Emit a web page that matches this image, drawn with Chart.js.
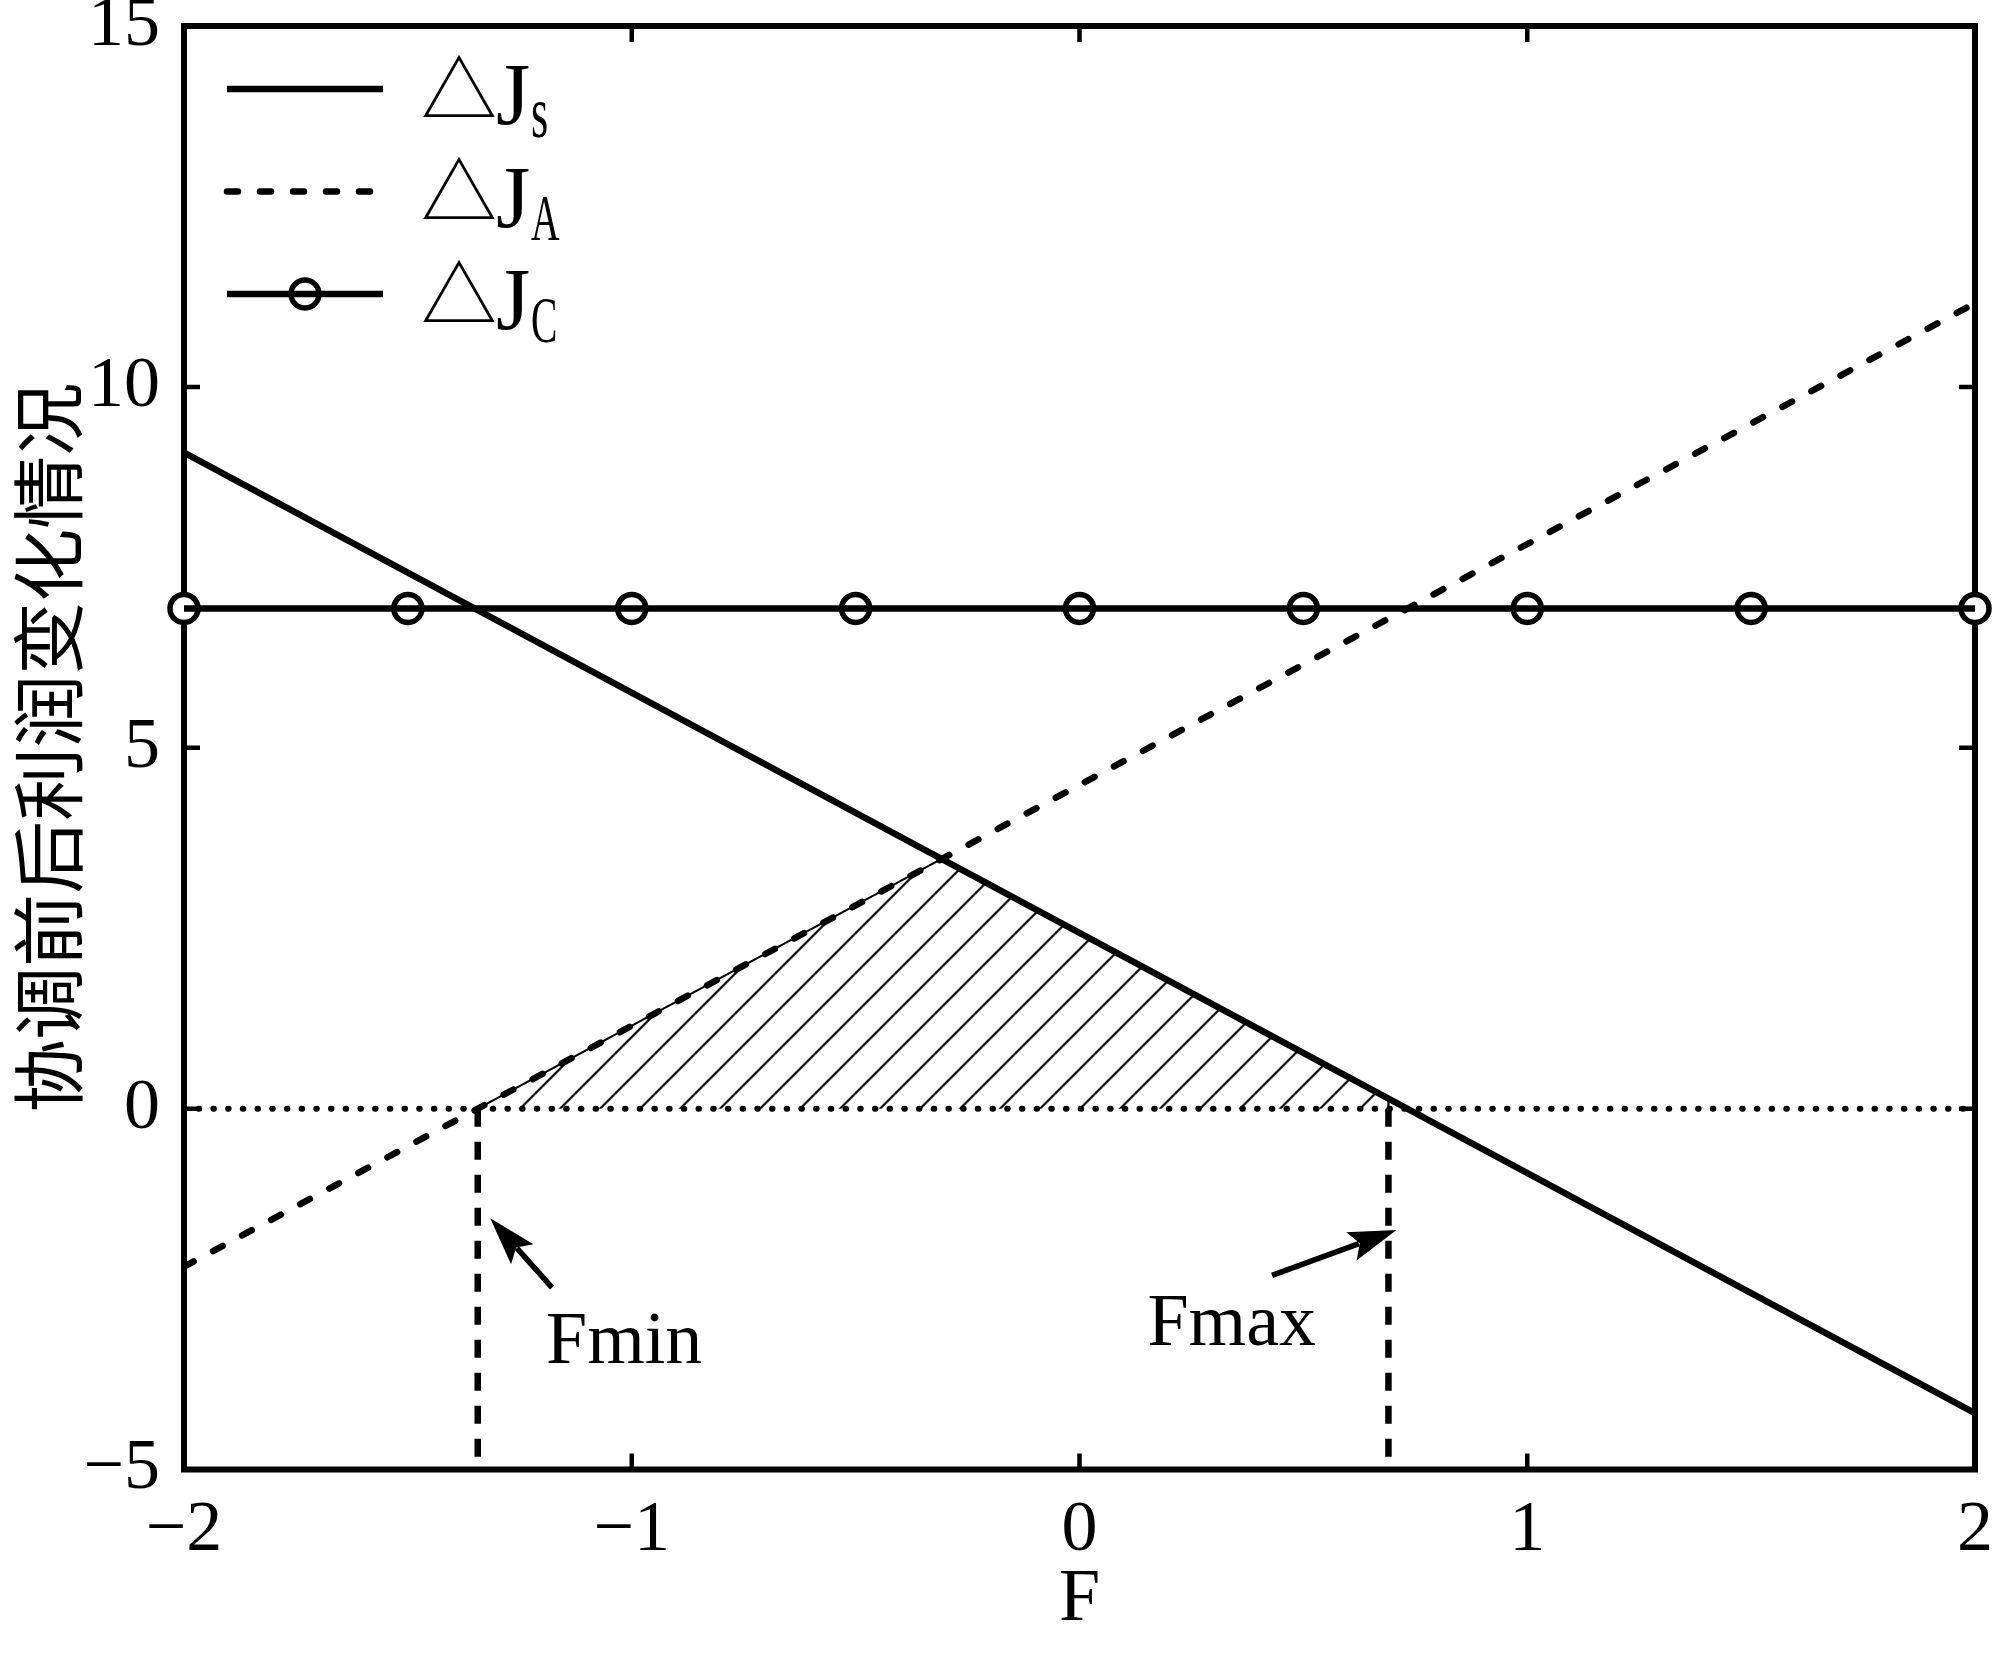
<!DOCTYPE html>
<html>
<head>
<meta charset="utf-8">
<script src="https://cdn.jsdelivr.net/npm/chart.js@4.4.1/dist/chart.umd.min.js"></script>
<style>
  html, body { margin: 0; padding: 0; background: #fff; }
  canvas { display: block; }
</style>
</head>
<body>
<canvas id="chart" width="2000" height="1659"></canvas>
<script>
// values
const fTicks = [-2, -1, 0, 1, 2];
const jTicks = [-5, 0, 5, 10, 15];

const jsF = [-2, 2];
const jsVals = [9.09, -4.22];

const jaF = [-2, 2];
const jaVals = [-2.19, 11.16];

const jcF = [-2, -1.5, -1, -0.5, 0, 0.5, 1, 1.5, 2];
const jcVals = [6.93, 6.93, 6.93, 6.93, 6.93, 6.93, 6.93, 6.93, 6.93];

const zeroF = [-2, 2];
const zeroVals = [0, 0];

const F_MIN = -1.344;
const F_MAX = 0.69;
const boundVals = [0, -5];

// shaded region: Fmin -> crossing of the two lines -> Fmax
const hatchF = [F_MIN, -0.308, F_MAX, F_MAX];
const hatchVals = [0, 3.46, 0.15, 0];

const legendSubs = ["s", "A", "C"];
const yTitle = "协调前后利润变化情况";
const xTitle = "F";

// arrow notes (data units)
const noteText = ["Fmin", "Fmax"];
const noteTextAt = [[-1.017, -3.525], [0.340, -3.275]];
const noteTail = [[-1.178, -2.48], [0.430, -2.31]];
const noteTip = [[-1.316, -1.52], [0.708, -1.68]];

const pts = (xs, ys) => xs.map((v, i) => ({ x: v, y: ys[i] }));
const minus = (v) => (v < 0 ? "\u2212" + Math.abs(v) : String(v));

Chart.defaults.color = "#000";
Chart.defaults.font.family = "'Liberation Serif', serif";

const canvas = document.getElementById("chart");
const ctx = canvas.getContext("2d");

// 45 degree hatch
const tile = document.createElement("canvas");
tile.width = 40;
tile.height = 40;
const tg = tile.getContext("2d");
tg.strokeStyle = "#000";
tg.lineWidth = 2.2;
tg.beginPath();
tg.moveTo(-40, 40); tg.lineTo(40, -40);
tg.moveTo(-40, 80); tg.lineTo(80, -40);
tg.moveTo(0, 80); tg.lineTo(80, 0);
tg.stroke();
const hatch = ctx.createPattern(tile, "repeat");
hatch.setTransform(new DOMMatrix().translate(28.7, 0));

const framePlugin = {
  id: "frame",
  beforeDatasetsDraw(chart) {
    const { ctx, chartArea: a, scales: { x, y } } = chart;
    ctx.save();
    ctx.strokeStyle = "#000";
    ctx.lineWidth = 6;
    ctx.strokeRect(a.left, a.top, a.right - a.left, a.bottom - a.top);
    ctx.lineWidth = 4.5;
    ctx.beginPath();
    x.ticks.forEach((t) => {
      const p = x.getPixelForValue(t.value);
      ctx.moveTo(p, a.bottom); ctx.lineTo(p, a.bottom - 16);
      ctx.moveTo(p, a.top); ctx.lineTo(p, a.top + 16);
    });
    y.ticks.forEach((t) => {
      const p = y.getPixelForValue(t.value);
      ctx.moveTo(a.left, p); ctx.lineTo(a.left + 16, p);
      ctx.moveTo(a.right, p); ctx.lineTo(a.right - 16, p);
    });
    ctx.stroke();
    ctx.restore();
  }
};

function arrow(ctx, x0, y0, x1, y1) {
  const ang = Math.atan2(y1 - y0, x1 - x0);
  const len = 48, half = 15;
  const bx = x1 - len * Math.cos(ang), by = y1 - len * Math.sin(ang);
  ctx.lineWidth = 5.5;
  ctx.beginPath();
  ctx.moveTo(x0, y0);
  ctx.lineTo(bx + 8 * Math.cos(ang), by + 8 * Math.sin(ang));
  ctx.stroke();
  ctx.beginPath();
  ctx.moveTo(x1, y1);
  ctx.lineTo(bx + half * Math.sin(ang), by - half * Math.cos(ang));
  ctx.lineTo(bx + 9 * Math.cos(ang), by + 9 * Math.sin(ang));
  ctx.lineTo(bx - half * Math.sin(ang), by + half * Math.cos(ang));
  ctx.closePath();
  ctx.fill();
}

const notesPlugin = {
  id: "notes",
  afterDatasetsDraw(chart) {
    const { ctx, chartArea: a, scales: { x, y } } = chart;
    ctx.save();
    ctx.fillStyle = "#000";
    ctx.strokeStyle = "#000";

    noteText.forEach((txt, i) => {
      arrow(ctx,
        x.getPixelForValue(noteTail[i][0]), y.getPixelForValue(noteTail[i][1]),
        x.getPixelForValue(noteTip[i][0]), y.getPixelForValue(noteTip[i][1]));
      ctx.font = "74px 'Liberation Serif'";
      ctx.textAlign = "center";
      ctx.textBaseline = "alphabetic";
      ctx.fillText(txt, x.getPixelForValue(noteTextAt[i][0]), y.getPixelForValue(noteTextAt[i][1]));
    });

    // legend, styles taken from the datasets
    const entries = [0, 1, 3];
    entries.forEach((dsIndex, row) => {
      const ds = chart.data.datasets[dsIndex];
      const ly = a.top + 63 + row * 102.5;
      const x0 = a.left + 43, x1 = a.left + 199;
      ctx.save();
      ctx.lineWidth = ds.borderWidth;
      ctx.lineCap = ds.borderCapStyle || "butt";
      ctx.setLineDash(ds.borderDash || []);
      ctx.beginPath();
      ctx.moveTo(x0, ly);
      ctx.lineTo(x1, ly);
      ctx.stroke();
      ctx.restore();
      if (row === 2) {
        const m = chart.data.datasets[2];
        ctx.lineWidth = m.pointBorderWidth;
        ctx.beginPath();
        ctx.arc((x0 + x1) / 2, ly, m.pointRadius, 0, Math.PI * 2);
        ctx.stroke();
      }
      ctx.textAlign = "left";
      ctx.font = "76px 'Noto Sans CJK SC'";
      ctx.textBaseline = "middle";
      ctx.fillText("\u25B3", a.left + 237, ly);
      ctx.textBaseline = "alphabetic";
      ctx.font = "88px 'Liberation Serif'";
      ctx.fillText("J", a.left + 312, ly + 35);
      ctx.save();
      ctx.translate(a.left + 347, ly + 48);
      ctx.scale(0.6, 1);
      ctx.font = (row === 0 ? "74px" : "66px") + " 'Liberation Serif'";
      ctx.fillText(legendSubs[row], 0, 0);
      ctx.restore();
    });
    ctx.restore();
  }
};

new Chart(ctx, {
  type: "line",
  data: {
    datasets: [
      {
        label: "\u25B3J" + legendSubs[0],
        data: pts(jsF, jsVals),
        borderColor: "#000", borderWidth: 6.5, pointRadius: 0, order: 3
      },
      {
        label: "\u25B3J" + legendSubs[1],
        data: pts(jaF, jaVals),
        borderColor: "#000", borderWidth: 6.5, borderDash: [11, 22], borderCapStyle: "round",
        pointRadius: 0, order: 4
      },
      {
        label: "markers",
        data: pts(jcF, jcVals),
        showLine: false, pointRadius: 14, pointBorderWidth: 5.5,
        pointBorderColor: "#000", pointBackgroundColor: "#fff",
        clip: false, order: 9
      },
      {
        label: "\u25B3J" + legendSubs[2],
        data: pts(jcF, jcVals),
        borderColor: "#000", borderWidth: 6.5, pointRadius: 0, clip: false, order: 2
      },
      {
        label: "zero",
        data: pts(zeroF, zeroVals),
        borderColor: "#000", borderWidth: 6, borderDash: [0.5, 14.2], borderCapStyle: "round",
        pointRadius: 0, order: 6
      },
      {
        label: "Fmin",
        data: pts([F_MIN, F_MIN], boundVals),
        borderColor: "#000", borderWidth: 6.5, borderDash: [18, 15], pointRadius: 0, order: 7
      },
      {
        label: "Fmax",
        data: pts([F_MAX, F_MAX], boundVals),
        borderColor: "#000", borderWidth: 6.5, borderDash: [18, 15], pointRadius: 0, order: 7
      },
      {
        label: "region",
        data: pts(hatchF, hatchVals),
        borderColor: "#000", borderWidth: 2.2, backgroundColor: hatch,
        fill: "origin", pointRadius: 0, order: 10
      }
    ]
  },
  options: {
    responsive: false,
    animation: false,
    events: [],
    layout: { padding: { top: 26, right: 25, bottom: 0, left: 0 } },
    plugins: { legend: { display: false }, tooltip: { enabled: false } },
    scales: {
      x: {
        type: "linear",
        min: fTicks[0],
        max: fTicks[fTicks.length - 1],
        afterBuildTicks: (s) => { s.ticks = fTicks.map((v) => ({ value: v })); },
        ticks: { callback: minus, font: { size: 72 }, padding: 18, maxRotation: 0, autoSkip: false },
        grid: { display: false, drawTicks: false },
        border: { display: false },
        title: { display: true, text: xTitle, font: { size: 74 }, padding: { top: 0, bottom: 14 } },
        afterFit: (s) => { s.height = 189.5; s.paddingLeft = 0; s.paddingRight = 0; }
      },
      y: {
        type: "linear",
        min: jTicks[0],
        max: jTicks[jTicks.length - 1],
        afterBuildTicks: (s) => { s.ticks = jTicks.map((v) => ({ value: v })); },
        ticks: { callback: minus, font: { size: 72 }, padding: 24, autoSkip: false },
        grid: { display: false, drawTicks: false },
        border: { display: false },
        title: {
          display: true, text: yTitle,
          font: { size: 73, family: "'Noto Sans CJK SC'" },
          padding: { top: 4, bottom: 0 }
        },
        afterFit: (s) => { s.width = 184; s.paddingTop = 0; s.paddingBottom = 0; }
      }
    }
  },
  plugins: [framePlugin, notesPlugin]
});
</script>
</body>
</html>
